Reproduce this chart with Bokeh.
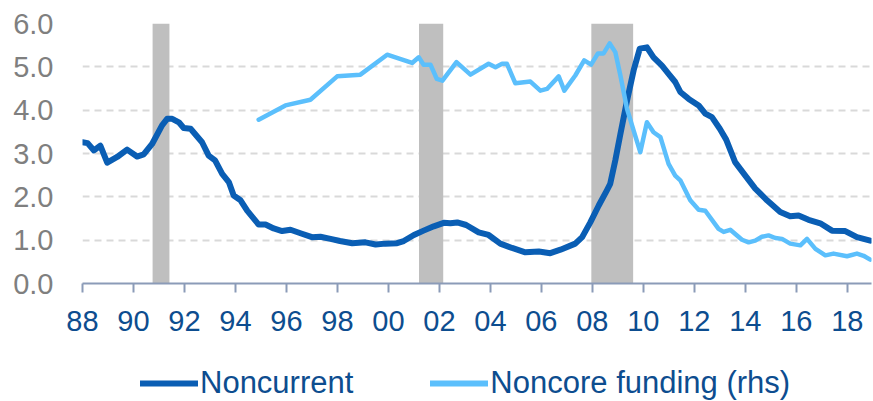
from bokeh.plotting import figure
from bokeh.layouts import column
from bokeh.models import (FixedTicker, Legend, LegendItem, ColumnDataSource, Range1d)
from bokeh.embed import file_html
from bokeh.resources import INLINE

# ---- data ----
noncurrent_x = [1988.0, 1988.2, 1988.45, 1988.7, 1988.97, 1989.36, 1989.75, 1990.14, 1990.4, 1990.73,
                1991.12, 1991.32, 1991.52, 1991.78, 1991.97, 1992.24, 1992.69, 1992.95, 1993.2, 1993.48,
                1993.74, 1993.93, 1994.2, 1994.46, 1994.91, 1995.18, 1995.5, 1995.83, 1996.16, 1996.55,
                1997.0, 1997.33, 1997.73, 1998.1, 1998.58, 1999.1, 1999.5, 1999.88, 2000.34, 2000.6,
                2001.0, 2001.38, 2001.78, 2002.17, 2002.43, 2002.7, 2003.05, 2003.54, 2003.93, 2004.39,
                2004.85, 2005.37, 2005.9, 2006.35, 2006.75, 2007.33, 2007.6, 2007.92, 2008.25, 2008.57,
                2008.7, 2008.9, 2009.1, 2009.36, 2009.62, 2009.86, 2010.14, 2010.4, 2010.73, 2010.99,
                2011.25, 2011.45, 2011.78, 2012.17, 2012.43, 2012.69, 2013.0, 2013.25, 2013.6, 2014.0,
                2014.39, 2014.85, 2015.37, 2015.76, 2016.09, 2016.48, 2016.94, 2017.4, 2017.92, 2018.38,
                2018.9]
noncurrent_y = [3.26, 3.24, 3.07, 3.18, 2.79, 2.92, 3.09, 2.93, 2.98, 3.22,
                3.65, 3.80, 3.80, 3.72, 3.59, 3.57, 3.26, 2.95, 2.84, 2.53,
                2.34, 2.03, 1.92, 1.68, 1.36, 1.36, 1.27, 1.21, 1.24, 1.16,
                1.07, 1.08, 1.03, 0.98, 0.93, 0.95, 0.90, 0.92, 0.93, 0.98,
                1.12, 1.22, 1.32, 1.40, 1.39, 1.41, 1.35, 1.18, 1.12, 0.92,
                0.82, 0.72, 0.74, 0.70, 0.78, 0.92, 1.07, 1.41, 1.80, 2.15,
                2.30, 2.84, 3.45, 4.22, 4.92, 5.42, 5.45, 5.22, 5.03, 4.84,
                4.65, 4.42, 4.26, 4.11, 3.92, 3.84, 3.57, 3.32, 2.80, 2.49,
                2.19, 1.92, 1.65, 1.55, 1.57, 1.47, 1.39, 1.22, 1.21, 1.07,
                0.99]

noncore_x = [1994.91, 1995.96, 1996.94, 1997.99, 1998.9, 1999.95, 2000.93, 2001.19, 2001.38, 2001.65,
             2001.9, 2002.12, 2002.67, 2003.22, 2003.93, 2004.2, 2004.46, 2004.65, 2004.98, 2005.57,
             2005.96, 2006.22, 2006.68, 2006.9, 2007.33, 2007.68, 2007.95, 2008.22, 2008.44, 2008.68,
             2008.9, 2009.1, 2009.36, 2009.62, 2009.88, 2010.14, 2010.4, 2010.67, 2010.99, 2011.25,
             2011.45, 2011.84, 2012.17, 2012.43, 2012.95, 2013.15, 2013.41, 2013.87, 2014.13, 2014.39,
             2014.65, 2014.91, 2015.18, 2015.44, 2015.76, 2016.16, 2016.42, 2016.75, 2017.14, 2017.46,
             2017.99, 2018.38, 2018.64, 2018.9]
noncore_y = [3.78, 4.11, 4.24, 4.78, 4.82, 5.28, 5.09, 5.22, 5.05, 5.05,
             4.72, 4.68, 5.11, 4.82, 5.07, 4.99, 5.07, 5.07, 4.62, 4.66,
             4.45, 4.49, 4.78, 4.45, 4.80, 5.15, 5.05, 5.31, 5.31, 5.54,
             5.34, 4.80, 4.03, 3.53, 3.03, 3.72, 3.49, 3.38, 2.76, 2.49,
             2.38, 1.92, 1.70, 1.68, 1.26, 1.19, 1.24, 1.01, 0.95, 0.99,
             1.08, 1.11, 1.05, 1.03, 0.92, 0.88, 1.03, 0.80, 0.65, 0.69,
             0.63, 0.69, 0.64, 0.55]

recession_start = [1990.75, 2001.2, 2007.96]
recession_end = [1991.41, 2002.15, 2009.6]

x_ticks = [1988, 1990, 1992, 1994, 1996, 1998, 2000, 2002, 2004, 2006, 2008, 2010, 2012, 2014, 2016, 2018]
x_tick_labels = ["88", "90", "92", "94", "96", "98", "00", "02", "04", "06", "08", "10", "12", "14", "16", "18"]
y_ticks = [0, 1, 2, 3, 4, 5, 6]
y_tick_labels = ["0.0", "1.0", "2.0", "3.0", "4.0", "5.0", "6.0"]

series_names = ["Noncurrent", "Noncore funding (rhs)"]

# ---- styling ----
DARK = "#0A5EB4"
LIGHT = "#5BBFFC"
TXT_BLUE = "#0D4D8F"
FONT = "Liberation Sans"

p = figure(width=873, height=350, output_backend="svg", toolbar_location=None,
           x_range=Range1d(1988, 2018.95), y_range=Range1d(0, 6),
           min_border_left=82, min_border_right=2, min_border_top=23, min_border_bottom=67)
p.outline_line_color = None
p.background_fill_color = "white"

# recession shading
rec = ColumnDataSource(dict(left=recession_start, right=recession_end,
                            bottom=[y_ticks[0]] * len(recession_start),
                            top=[y_ticks[-1]] * len(recession_start)))
p.quad(left="left", right="right", bottom="bottom", top="top", source=rec,
       fill_color="#BFBFBF", line_color=None)

p.line(noncurrent_x, noncurrent_y, line_color=DARK, line_width=6,
       line_join="round", line_cap="round")
p.line(noncore_x, noncore_y, line_color=LIGHT, line_width=4.5,
       line_join="round", line_cap="round")

# axes
p.xaxis.ticker = FixedTicker(ticks=x_ticks)
p.xaxis.major_label_overrides = {t: l for t, l in zip(x_ticks, x_tick_labels)}
p.xaxis.minor_tick_line_color = None
p.xaxis.major_tick_in = 0
p.xaxis.major_tick_out = 9
p.xaxis.major_tick_line_color = "#8B9BB8"
p.xaxis.major_tick_line_width = 2
p.xaxis.axis_line_color = "#8B9BB8"
p.xaxis.axis_line_width = 2
p.xaxis.major_label_text_font = FONT
p.xaxis.major_label_text_font_size = "29px"
p.xaxis.major_label_text_color = TXT_BLUE
p.xaxis.major_label_standoff = 18

p.yaxis.ticker = FixedTicker(ticks=y_ticks)
p.yaxis.major_label_overrides = {t: l for t, l in zip(y_ticks, y_tick_labels)}
p.yaxis.minor_tick_line_color = None
p.yaxis.major_tick_line_color = None
p.yaxis.major_tick_in = 0
p.yaxis.major_tick_out = 0
p.yaxis.axis_line_color = None
p.yaxis.major_label_text_font = FONT
p.yaxis.major_label_text_font_size = "29px"
p.yaxis.major_label_text_color = "#7F7F7F"
p.yaxis.major_label_standoff = 29

p.xgrid.grid_line_color = None
p.ygrid.grid_line_color = "#D9D9D9"
p.ygrid.grid_line_width = 2
p.ygrid.grid_line_dash = "7 5"

# ---- legend strip (frame aligned with the chart above) ----
lg = figure(width=873, height=51, output_backend="svg", toolbar_location=None,
            x_range=Range1d(0, 1), y_range=Range1d(0, 1), min_border=0)
lg.axis.visible = False
lg.grid.grid_line_color = None
lg.outline_line_color = None
# legend proxies: the same series, outside this strip's visible range
d1 = lg.line(noncurrent_x, noncurrent_y, line_color=DARK, line_width=6, line_cap="round")
d2 = lg.line(noncore_x, noncore_y, line_color=LIGHT, line_width=6, line_cap="round")
legend = Legend(items=[LegendItem(label=series_names[0], renderers=[d1]),
                       LegendItem(label=series_names[1], renderers=[d2])],
                orientation="horizontal", location=(58, 0),
                label_text_font=FONT, label_text_font_size="31px",
                label_text_color=TXT_BLUE, glyph_width=58, glyph_height=30,
                label_standoff=2, spacing=77, padding=0, margin=0,
                border_line_color=None, background_fill_alpha=0)
lg.add_layout(legend, "center")

layout = column(p, lg, spacing=0)
open("out.html", "w").write(file_html(layout, INLINE))
